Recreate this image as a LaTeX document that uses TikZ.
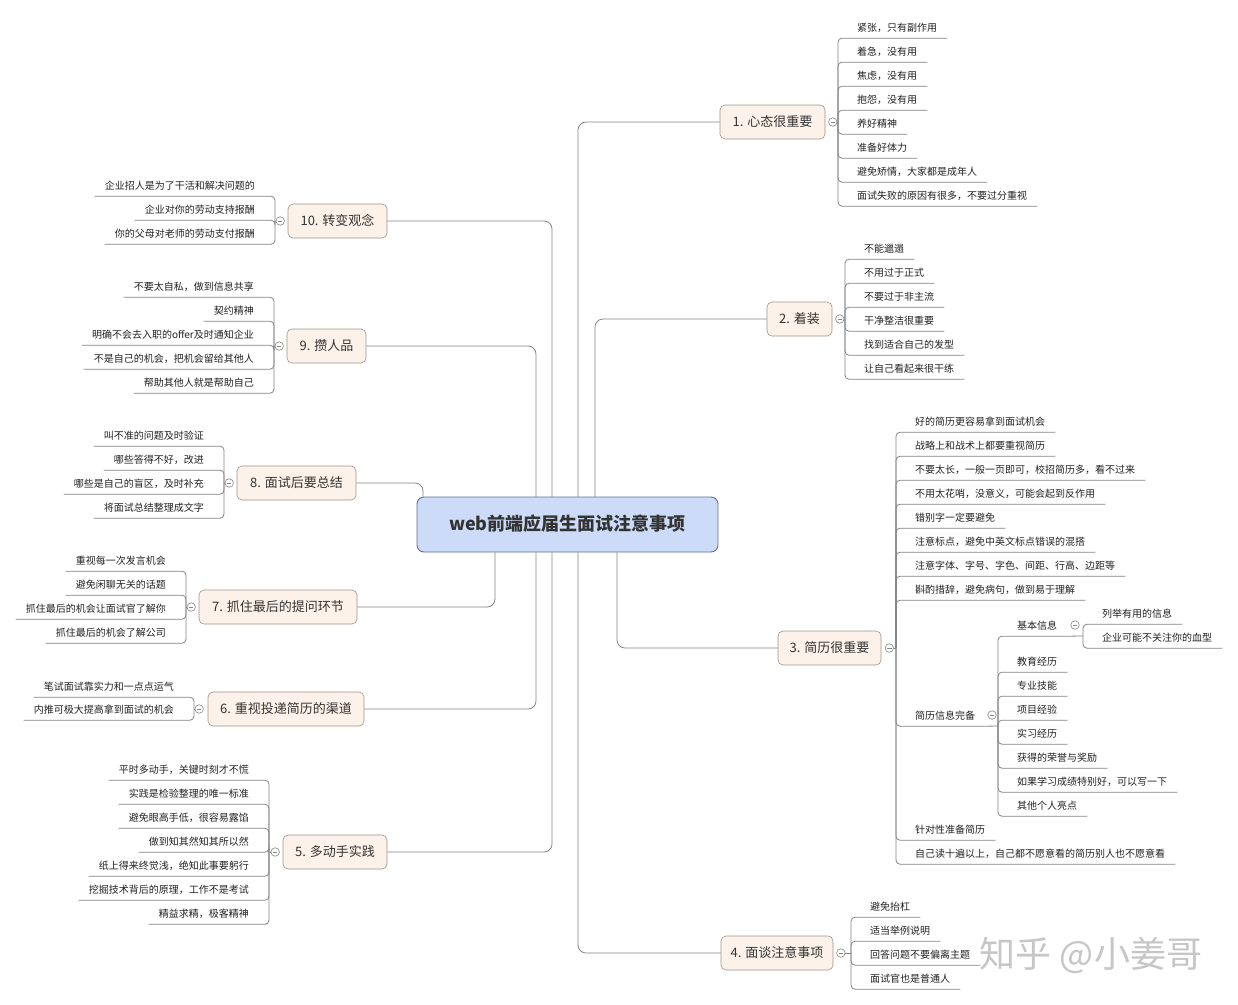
\documentclass[tikz,border=0pt]{standalone}
\usepackage{fontspec}
\setmainfont{Noto Sans CJK SC}
\definecolor{linec}{HTML}{858585}
\definecolor{rootfill}{HTML}{CCDCF8}
\definecolor{rootdraw}{HTML}{5F7196}
\definecolor{brfill}{HTML}{FDF2E9}
\definecolor{brdraw}{HTML}{A09488}
\definecolor{txt}{HTML}{333333}
\definecolor{leafc}{HTML}{222222}
\begin{document}
\begin{tikzpicture}[x=1pt,y=-1pt,
 conn/.style={draw=linec, line width=0.8pt},
 spinec/.style={conn, rounded corners=4pt},
 trunk/.style={conn, rounded corners=8pt},
 rootbox/.style={draw=rootdraw, fill=rootfill, rounded corners=7pt, line width=0.9pt, minimum width=301pt, minimum height=55pt, inner sep=0pt, text height=14pt, text depth=2pt, font=\fontsize{18}{20}\selectfont\bfseries, text=txt},
 brbox/.style={draw=brdraw, fill=brfill, rounded corners=5pt, line width=0.6pt, minimum height=34pt, inner xsep=0pt, text height=10pt, text depth=1pt, font=\fontsize{13}{15}\selectfont, text=txt},
 leafbase/.style={font=\fontsize{10}{12}\selectfont, text=leafc, inner xsep=10pt, inner ysep=0pt, minimum height=22pt, text height=9pt, text depth=1pt},
 leafR/.style={leafbase, anchor=west},
 leafL/.style={leafbase, anchor=east},
 tog/.style={circle, draw=linec, fill=white, minimum size=8.5pt, inner sep=0pt, line width=0.6pt,
   path picture={\draw[linec, line width=0.6pt] ([xshift=-2.2pt]path picture bounding box.center) -- ([xshift=2.2pt]path picture bounding box.center);}}]
\fill[white] (0,0) rectangle (1238,1004);
\useasboundingbox (0,0) rectangle (1238,1004);

% central topic
\node[rootbox] (root) at (567.5,524.5) {web前端应届生面试注意事项};

% main branches
\node[brbox, minimum width=105pt] (n1) at (772.5,122) {1. 心态很重要};
\node[brbox, minimum width=65pt]  (n2) at (799.5,319) {2. 着装};
\node[brbox, minimum width=103pt] (n3) at (829.5,648) {3. 简历很重要};
\node[brbox, minimum width=112pt] (n4) at (777,953) {4. 面谈注意事项};
\node[brbox, minimum width=104pt] (n5) at (335,852) {5. 多动手实践};
\node[brbox, minimum width=156pt] (n6) at (286,709) {6. 重视投递简历的渠道};
\node[brbox, minimum width=158pt] (n7) at (278,607) {7. 抓住最后的提问环节};
\node[brbox, minimum width=119pt] (n8) at (296.5,483) {8. 面试后要总结};
\node[brbox, minimum width=79pt]  (n9) at (326.5,346) {9. 攒人品};
\node[brbox, minimum width=99pt]  (n10) at (337.5,221) {10. 转变观念};

% trunks from root
\draw[trunk] ([xshift=10.5pt]root.north) |- (n1.west);
\draw[trunk] ([xshift=27.5pt]root.north) |- (n2.west);
\draw[trunk] ([xshift=49.5pt]root.south) |- (n3.west);
\draw[trunk] ([xshift=10.5pt]root.south) |- (n4.west);
\draw[trunk] ([xshift=-15.5pt]root.south) |- (n5.east);
\draw[trunk] ([xshift=-31.5pt]root.south) |- (n6.east);
\draw[trunk] ([xshift=-72.5pt]root.south) |- (n7.east);
\draw[trunk] ([xshift=-144.5pt]root.north) |- (n8.east);
\draw[trunk] ([xshift=-31.5pt]root.north) |- (n9.east);
\draw[trunk] ([xshift=-15.5pt]root.north) |- (n10.east);

% toggles
\node[tog] (t1) at ([xshift=7.5pt]n1.east) {};
\node[tog] (t2) at ([xshift=7.5pt]n2.east) {};
\node[tog] (t3) at ([xshift=8pt]n3.east) {};
\node[tog] (t4) at ([xshift=7.5pt]n4.east) {};
\node[tog] (t5) at ([xshift=-7.5pt]n5.west) {};
\node[tog] (t6) at ([xshift=-8.5pt]n6.west) {};
\node[tog] (t7) at ([xshift=-7.5pt]n7.west) {};
\node[tog] (t8) at ([xshift=-7.5pt]n8.west) {};
\node[tog] (t9) at ([xshift=-7.5pt]n9.west) {};
\node[tog] (t10) at ([xshift=-7.5pt]n10.west) {};

% spine points
\coordinate (s1) at (838,122);
\coordinate (s2) at (845,319);
\coordinate (s3) at (896,648);
\coordinate (s4) at (851,953);
\coordinate (s5) at (269,852);
\coordinate (s6) at (194,709);
\coordinate (s7) at (186,607);
\coordinate (s8) at (224,483);
\coordinate (s9) at (274,346);
\coordinate (s10) at (275,221);
\foreach \k in {1,2,3,4} {\draw[conn] (t\k.east) -- (s\k);}
\foreach \k in {5,6,7,8,9,10} {\draw[conn] (t\k.west) -- (s\k);}

% branch 1
\foreach \yy/\t [count=\i] in {27/紧张，只有副作用, 51/着急，没有用, 75/焦虑，没有用, 99/抱怨，没有用, 123/养好精神, 147/准备好体力, 171/避免矫情，大家都是成年人, 195/面试失败的原因有很多，不要过分重视} {
  \node[leafR] (a1-\i) at (847,\yy) {\t};
  \draw[spinec] (s1) |- (a1-\i.south east);
}
% branch 2
\foreach \yy/\t [count=\i] in {248/不能邋遢, 272/不用过于正式, 296/不要过于非主流, 320/干净整洁很重要, 344/找到适合自己的发型, 368/让自己看起来很干练} {
  \node[leafR] (a2-\i) at (854,\yy) {\t};
  \draw[spinec] (s2) |- (a2-\i.south east);
}
% branch 3
\foreach \yy/\t [count=\i] in {421/好的简历更容易拿到面试机会, 445/战略上和战术上都要重视简历, 469/不要太长，一般一页即可，校招简历多，看不过来, 493/不用太花哨，没意义，可能会起到反作用, 517/错别字一定要避免, 541/注意标点，避免中英文标点错误的混搭, 565/注意字体、字号、字色、间距、行高、边距等, 589/斟酌措辞，避免病句，做到易于理解, 715/简历信息完备, 829/针对性准备简历, 853/自己读十遍以上，自己都不愿意看的简历别人也不愿意看} {
  \node[leafR] (a3-\i) at (905,\yy) {\t};
  \draw[spinec] (s3) |- (a3-\i.south east);
}
\coordinate (s3g) at (998,726);
\draw[conn] (a3-9.south east) -- (s3g);
\node[tog] (t3g) at (992,715) {};
\foreach \yy/\t [count=\i] in {625/基本信息, 661/教育经历, 685/专业技能, 709/项目经验, 733/实习经历, 757/获得的荣誉与奖励, 781/如果学习成绩特别好，可以写一下, 805/其他个人亮点} {
  \node[leafR] (g-\i) at (1007,\yy) {\t};
  \draw[spinec] (s3g) |- (g-\i.south east);
}
\coordinate (s3gg) at (1083,636);
\draw[conn] (g-1.south east) -- (s3gg);
\node[tog] (t3gg) at (1075,625) {};
\foreach \yy/\t [count=\i] in {613/列举有用的信息, 637/企业可能不关注你的血型} {
  \node[leafR] (h-\i) at (1092,\yy) {\t};
  \draw[spinec] (s3gg) |- (h-\i.south east);
}
% branch 4
\foreach \yy/\t [count=\i] in {906/避免抬杠, 930/适当举例说明, 954/回答问题不要偏离主题, 978/面试官也是普通人} {
  \node[leafR] (a4-\i) at (860,\yy) {\t};
  \draw[spinec] (s4) |- (a4-\i.south east);
}
% branch 5
\foreach \yy/\t [count=\i] in {769/平时多动手，关键时刻才不慌, 793/实践是检验整理的唯一标准, 817/避免眼高手低，很容易露馅, 841/做到知其然知其所以然, 865/纸上得来终觉浅，绝知此事要躬行, 889/挖掘技术背后的原理，工作不是考试, 913/精益求精，极客精神} {
  \node[leafL] (a5-\i) at (259,\yy) {\t};
  \draw[spinec] (s5) |- (a5-\i.south west);
}
% branch 6
\foreach \yy/\t [count=\i] in {686/笔试面试靠实力和一点点运气, 709/内推可极大提高拿到面试的机会} {
  \node[leafL] (a6-\i) at (184,\yy) {\t};
  \draw[spinec] (s6) |- (a6-\i.south west);
}
% branch 7
\foreach \yy/\t [count=\i] in {560/重视每一次发言机会, 584/避免闲聊无关的话题, 608/抓住最后的机会让面试官了解你, 632/抓住最后的机会了解公司} {
  \node[leafL] (a7-\i) at (176,\yy) {\t};
  \draw[spinec] (s7) |- (a7-\i.south west);
}
% branch 8
\foreach \yy/\t [count=\i] in {435/叫不准的问题及时验证, 459/哪些答得不好，改进, 483/哪些是自己的盲区，及时补充, 507/将面试总结整理成文字} {
  \node[leafL] (a8-\i) at (214,\yy) {\t};
  \draw[spinec] (s8) |- (a8-\i.south west);
}
% branch 9
\foreach \yy/\t [count=\i] in {286/不要太自私，做到信息共享, 310/契约精神, 334/明确不会去入职的offer及时通知企业, 358/不是自己的机会，把机会留给其他人, 382/帮助其他人就是帮助自己} {
  \node[leafL] (a9-\i) at (264,\yy) {\t};
  \draw[spinec] (s9) |- (a9-\i.south west);
}
% branch 10
\foreach \yy/\t [count=\i] in {185/企业招人是为了干活和解决问题的, 209/企业对你的劳动支持报酬, 233/你的父母对老师的劳动支付报酬} {
  \node[leafL] (a10-\i) at (265,\yy) {\t};
  \draw[spinec] (s10) |- (a10-\i.south west);
}

% watermark
\node[font=\fontsize{36}{40}\selectfont, text=gray!45] (wm) at (1091,955) {知乎 @小姜哥};
\end{tikzpicture}
\end{document}
